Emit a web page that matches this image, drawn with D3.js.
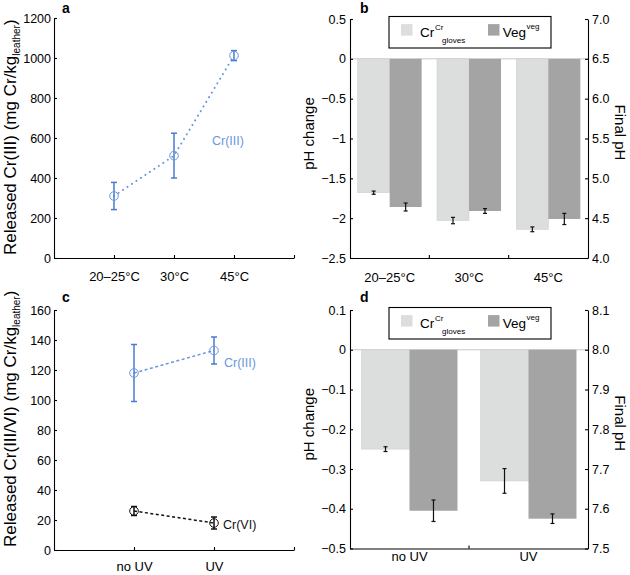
<!DOCTYPE html>
<html><head><meta charset="utf-8">
<script src="https://cdn.jsdelivr.net/npm/d3@7"></script>
<style>
body{margin:0;background:#fff;}
svg{font-family:"Liberation Sans",Arial,Helvetica,sans-serif;}
</style></head>
<body><svg id="c" width="630" height="575"></svg>
<script>
// ---------- data ----------
const tempCats = ["20–25°C", "30°C", "45°C"];
const uvCats = ["no UV", "UV"];
const crIIItemp = [310, 512, 1012];
const crIIItempErr = [68, 112, 25];
const crIIIuv = [118, 133];
const crIIIuvErr = [19, 9];
const crVIuv = [26, 18];
const crVIuvErr = [3, 4];
const barSeries = ["Cr", "Veg"];
const phTempCr = [-1.68, -2.03, -2.14];
const phTempCrErr = [0.02, 0.04, 0.03];
const phTempVeg = [-1.86, -1.91, -2.01];
const phTempVegErr = [0.05, 0.03, 0.07];
const phUvCr = [-0.25, -0.33];
const phUvCrErr = [0.006, 0.031];
const phUvVeg = [-0.405, -0.425];
const phUvVegErr = [0.027, 0.012];
const aYTicks = [0, 200, 400, 600, 800, 1000, 1200];
const cYTicks = [0, 20, 40, 60, 80, 100, 120, 140, 160];
const bLeftTicks = [-2.5, -2, -1.5, -1, -0.5, 0, 0.5];
const bLeftLabels = ["−2.5", "−2", "−1.5", "−1", "−0.5", "0", "0.5"];
const bRightTicks = [4.0, 4.5, 5.0, 5.5, 6.0, 6.5, 7.0];
const bRightLabels = ["4.0", "4.5", "5.0", "5.5", "6.0", "6.5", "7.0"];
const dLeftTicks = [-0.5, -0.4, -0.3, -0.2, -0.1, 0, 0.1];
const dLeftLabels = ["−0.5", "−0.4", "−0.3", "−0.2", "−0.1", "0", "0.1"];
const dRightTicks = [7.5, 7.6, 7.7, 7.8, 7.9, 8.0, 8.1];
const dRightLabels = ["7.5", "7.6", "7.7", "7.8", "7.9", "8.0", "8.1"];

// ---------- styles ----------
const BLUE = "#4a7bd0", BLUE_L = "#6a96dc";
const LIGHT = "#dcdddd", DARK = "#a4a4a4";
const svg = d3.select("#c");

function styleAxis(g, fs) {
  g.selectAll("path,line").attr("stroke", "#000").attr("stroke-width", 1.1);
  g.selectAll("text").attr("font-size", fs).attr("fill", "#000").attr("font-family", null);
}

// ---------- line panels ----------
function linePanel(o) {
  const x = d3.scaleLinear().domain([0, o.cats.length + 1]).range([54, 294]);
  const y = d3.scaleLinear().domain(o.yDom).range(o.yRange);
  const gy = svg.append("g").attr("transform", `translate(54,0)`)
    .call(d3.axisLeft(y).tickValues(o.yTicks).tickFormat(d3.format("d")).tickSize(-3).tickSizeOuter(0).tickPadding(3));
  styleAxis(gy, 12.5);
  const xt = d3.range(1, o.cats.length + 2);
  const gx = svg.append("g").attr("transform", `translate(0,${o.yRange[0]})`)
    .call(d3.axisBottom(x).tickValues(xt).tickFormat(d => o.cats[d - 1] || "").tickSize(-3).tickSizeOuter(0).tickPadding(o.xPad));
  styleAxis(gx, 13);
  o.series.forEach(s => {
    const pts = s.vals.map((v, i) => [x(i + 1), y(v)]);
    svg.append("path").attr("d", d3.line()(pts)).attr("fill", "none")
      .attr("stroke", s.lineColor).attr("stroke-width", s.dot ? 2 : 1.5)
      .attr("stroke-dasharray", s.dot ? "0.1,5.3" : "3,2.5").attr("stroke-linecap", s.dot ? "round" : "butt");
    s.vals.forEach((v, i) => {
      const cx = x(i + 1), e = s.err[i];
      const g = svg.append("g").attr("stroke", s.errColor).attr("stroke-width", 1.5);
      g.append("line").attr("x1", cx).attr("x2", cx).attr("y1", y(v - e)).attr("y2", y(v + e));
      g.append("line").attr("x1", cx - 3).attr("x2", cx + 3).attr("y1", y(v - e)).attr("y2", y(v - e));
      g.append("line").attr("x1", cx - 3).attr("x2", cx + 3).attr("y1", y(v + e)).attr("y2", y(v + e));
      svg.append("circle").attr("cx", cx).attr("cy", y(v)).attr("r", 4.3)
        .attr("fill", "none").attr("stroke", s.lineColor).attr("stroke-width", 1);
    });
    svg.append("text").attr("x", s.lx).attr("y", s.ly).attr("font-size", 12.5)
      .attr("fill", s.lineColor).text(s.name);
  });
  // title
  const t = svg.append("text").attr("transform", `translate(16,${o.titleStart}) rotate(-90)`)
    .attr("font-size", 17).attr("fill", "#000");
  t.append("tspan").text(o.title);
  t.append("tspan").attr("font-size", 10).attr("dy", 4).text("leather");
  t.append("tspan").attr("dy", -4).text(")");
  svg.append("text").attr("x", 62).attr("y", o.letterY).attr("font-size", 14).attr("font-weight", "bold").text(o.letter);
}

linePanel({
  cats: tempCats, yDom: [0, 1200], yRange: [258, 18], yTicks: aYTicks, xPad: 14,
  title: "Released Cr(III) (mg Cr/kg", titleStart: 255, letter: "a", letterY: 13,
  series: [{ name: "Cr(III)", vals: crIIItemp, err: crIIItempErr, lineColor: BLUE_L, errColor: BLUE, dot: true, lx: 212, ly: 145 }]
});
linePanel({
  cats: uvCats, yDom: [0, 160], yRange: [550, 310], yTicks: cYTicks, xPad: 12,
  title: "Released Cr(III/VI) (mg Cr/kg", titleStart: 547, letter: "c", letterY: 302,
  series: [
    { name: "Cr(III)", vals: crIIIuv, err: crIIIuvErr, lineColor: BLUE_L, errColor: BLUE, dot: false, lx: 224, ly: 367 },
    { name: "Cr(VI)", vals: crVIuv, err: crVIuvErr, lineColor: "#111", errColor: "#111", dot: false, lx: 223, ly: 529 }
  ]
});

// ---------- bar panels ----------
function barPanel(o) {
  const x0 = d3.scaleBand().domain(o.cats).range([350, 588]).paddingInner(0).paddingOuter(0);
  const x1 = d3.scaleBand().domain(barSeries).range([0, x0.bandwidth()]).paddingInner(0).paddingOuter(0.24);
  const y = d3.scaleLinear().domain(o.yDom).range(o.yRange);
  const yR = d3.scaleLinear().domain(o.yRDom).range(o.yRange);
  svg.append("line").attr("x1", 350).attr("x2", 588).attr("y1", y(0)).attr("y2", y(0))
    .attr("stroke", "#c8c8c8").attr("stroke-width", 1);
  const colors = { Cr: LIGHT, Veg: DARK };
  o.cats.forEach((c, i) => {
    barSeries.forEach(s => {
      const v = o.vals[s][i], e = o.errs[s][i];
      const bx = x0(c) + x1(s), bw = x1.bandwidth();
      svg.append("rect").attr("x", bx).attr("width", bw).attr("y", y(0)).attr("height", y(v) - y(0))
        .attr("fill", colors[s]).attr("stroke", s === "Cr" ? "#cfd0d0" : "none").attr("stroke-width", 0.6);
      const cx = bx + bw / 2;
      const g = svg.append("g").attr("stroke", "#111").attr("stroke-width", 1.2);
      g.append("line").attr("x1", cx).attr("x2", cx).attr("y1", y(v - e)).attr("y2", y(v + e));
      g.append("line").attr("x1", cx - 2).attr("x2", cx + 2).attr("y1", y(v - e)).attr("y2", y(v - e));
      g.append("line").attr("x1", cx - 2).attr("x2", cx + 2).attr("y1", y(v + e)).attr("y2", y(v + e));
    });
  });
  const gl = svg.append("g").attr("transform", "translate(350,0)")
    .call(d3.axisLeft(y).tickValues(o.lTicks).tickFormat((d, i) => o.lLabels[i]).tickSize(-3).tickSizeOuter(0).tickPadding(4));
  styleAxis(gl, 12.5);
  const gr = svg.append("g").attr("transform", "translate(588,0)")
    .call(d3.axisRight(yR).tickValues(o.rTicks).tickFormat((d, i) => o.rLabels[i]).tickSize(-3).tickSizeOuter(0).tickPadding(4));
  styleAxis(gr, 12.5);
  const gb = svg.append("g").attr("transform", `translate(0,${o.yRange[0]})`)
    .call(d3.axisBottom(x0).tickSize(0).tickSizeOuter(0).tickPadding(o.xPad));
  styleAxis(gb, 13);
  o.cats.slice(1).forEach(c => {
    svg.append("line").attr("x1", x0(c)).attr("x2", x0(c)).attr("y1", o.yRange[0]).attr("y2", o.yRange[0] - 3)
      .attr("stroke", "#000").attr("stroke-width", 1.1);
  });
  // legend
  const top = o.yRange[1] - 2.5;
  const lg = svg.append("g").attr("transform", `translate(389,${top})`);
  lg.append("rect").attr("width", 162).attr("height", 31.5).attr("fill", "#fff").attr("stroke", "#000").attr("stroke-width", 1.1);
  lg.append("rect").attr("x", 12).attr("y", 7.6).attr("width", 11.5).attr("height", 11.5).attr("fill", LIGHT);
  lg.append("rect").attr("x", 99).attr("y", 7.6).attr("width", 11.5).attr("height", 11.5).attr("fill", DARK);
  lg.append("text").attr("x", 31).attr("y", 20).attr("font-size", 13.5).text("Cr");
  lg.append("text").attr("x", 46).attr("y", 13.5).attr("font-size", 8).text("Cr");
  lg.append("text").attr("x", 53).attr("y", 26.5).attr("font-size", 8).text("gloves");
  lg.append("text").attr("x", 113.7).attr("y", 20).attr("font-size", 13.5).text("Veg");
  lg.append("text").attr("x", 137.5).attr("y", 12.8).attr("font-size", 8).text("veg");
  // titles
  const cy = (o.yRange[0] + o.yRange[1]) / 2;
  svg.append("text").attr("transform", `translate(314,${cy - 5}) rotate(-90)`).attr("text-anchor", "middle")
    .attr("font-size", 15).text("pH change");
  svg.append("text").attr("transform", `translate(615,${cy - 6}) rotate(90)`).attr("text-anchor", "middle")
    .attr("font-size", 15).text("Final pH");
  svg.append("text").attr("x", 360).attr("y", o.letterY).attr("font-size", 14).attr("font-weight", "bold").text(o.letter);
}

barPanel({
  cats: tempCats, yDom: [-2.5, 0.5], yRDom: [4.0, 7.0], yRange: [258, 19],
  vals: { Cr: phTempCr, Veg: phTempVeg }, errs: { Cr: phTempCrErr, Veg: phTempVegErr },
  lTicks: bLeftTicks, lLabels: bLeftLabels, rTicks: bRightTicks, rLabels: bRightLabels,
  xPad: 15, letter: "b", letterY: 13
});
barPanel({
  cats: uvCats, yDom: [-0.5, 0.1], yRDom: [7.5, 8.1], yRange: [548.5, 310],
  vals: { Cr: phUvCr, Veg: phUvVeg }, errs: { Cr: phUvCrErr, Veg: phUvVegErr },
  lTicks: dLeftTicks, lLabels: dLeftLabels, rTicks: dRightTicks, rLabels: dRightLabels,
  xPad: 3.5, letter: "d", letterY: 302
});
</script></body></html>
